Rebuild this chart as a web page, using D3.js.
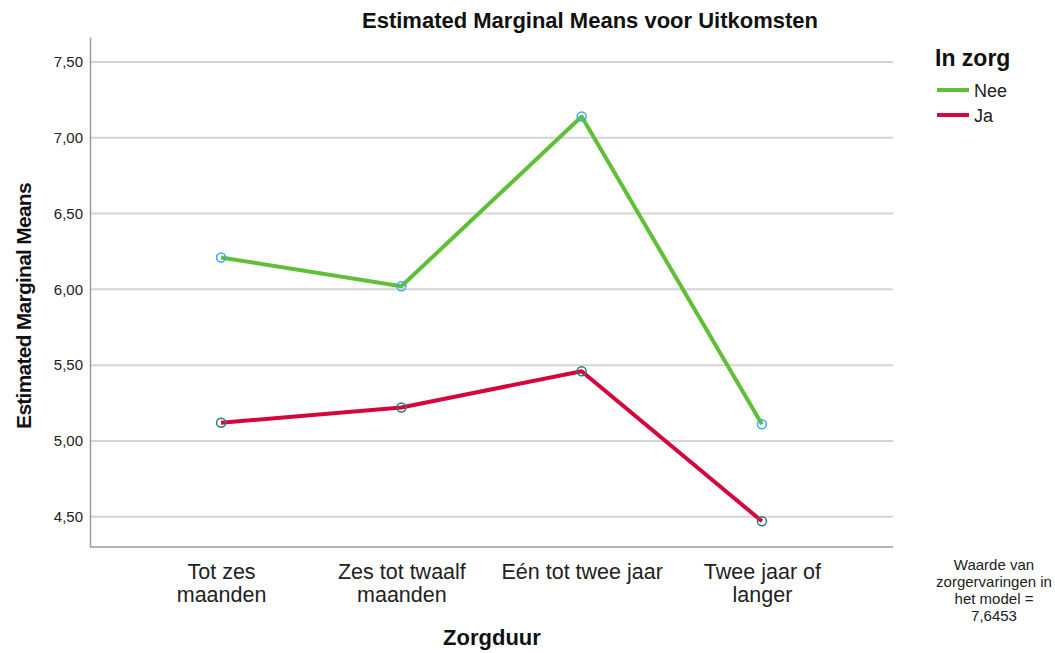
<!DOCTYPE html>
<html><head><meta charset="utf-8">
<script src="https://cdn.jsdelivr.net/npm/d3@7"></script>
<style>body{margin:0;background:#fff;} text{font-family:"Liberation Sans",Arial,sans-serif;}</style>
</head><body><svg id="c" width="1055" height="653"></svg>
<script>
const categories = [["Tot zes","maanden"],["Zes tot twaalf","maanden"],["Eén tot twee jaar"],["Twee jaar of","langer"]];
const catKeys = ["Tot zes maanden","Zes tot twaalf maanden","Eén tot twee jaar","Twee jaar of langer"];
const seriesNames = ["Nee","Ja"];
const neeValues = [6.21, 6.02, 7.14, 5.11];
const jaValues = [5.12, 5.22, 5.46, 4.47];
const yTicks = [4.5, 5.0, 5.5, 6.0, 6.5, 7.0, 7.5];
const noteLines = ["Waarde van","zorgervaringen in","het model =","7,6453"];

const svg = d3.select("#c");
const L = 90, R = 893, T = 37, B = 547;
const x = d3.scalePoint().domain(catKeys).range([L, R]).padding(0.727);
const y = d3.scaleLinear().domain([4.30, 7.665]).range([B, T]);
const fmt = v => d3.format(".2f")(v).replace(".", ",");

// gridlines
svg.append("g").selectAll("line").data(yTicks).join("line")
  .attr("x1", L).attr("x2", R).attr("y1", d => y(d)).attr("y2", d => y(d))
  .attr("stroke", "#d4d4d4").attr("stroke-width", 2);

// y axis
const ya = svg.append("g").attr("transform", `translate(${L},0)`)
  .call(d3.axisLeft(y).tickValues(yTicks).tickFormat(fmt).tickSize(0).tickPadding(7));
ya.select(".domain").attr("stroke", "#9a9a9a").attr("stroke-width", 1.5);
ya.selectAll("text").attr("font-size", 15).attr("fill", "#222").attr("font-family", "Liberation Sans, Arial, sans-serif");

// x axis
const xa = svg.append("g").attr("transform", `translate(0,${B})`)
  .call(d3.axisBottom(x).tickSize(0).tickFormat(""));
xa.select(".domain").attr("stroke", "#9a9a9a").attr("stroke-width", 1.5).attr("d", `M${L},0H${R}`);
xa.selectAll(".tick").each(function(d, i) {
  const t = d3.select(this).append("text").attr("fill", "#222").attr("font-size", 21.5)
    .attr("text-anchor", "middle").attr("font-family", "Liberation Sans, Arial, sans-serif");
  categories[i].forEach((ln, j) => t.append("tspan").attr("x", 0).attr("y", 32 + j * 23).text(ln));
});

// lines
const line = d3.line().x((d, i) => x(catKeys[i])).y(d => y(d));
const series = [
  {name: "Nee", values: neeValues, color: "#5fbf37", marker: "#3fa9f0"},
  {name: "Ja", values: jaValues, color: "#d4063c", marker: "#2e7a78"}
];
series.forEach(s => {
  svg.append("path").datum(s.values).attr("d", line).attr("fill", "none")
    .attr("stroke", s.color).attr("stroke-width", 4).attr("stroke-linejoin", "round");
});
series.forEach(s => {
  svg.append("g").selectAll("circle").data(s.values).join("circle")
    .attr("cx", (d, i) => x(catKeys[i])).attr("cy", d => y(d)).attr("r", 4.5)
    .attr("fill", "none").attr("stroke", s.marker).attr("stroke-width", 1.5);
});

// title
svg.append("text").attr("x", 590).attr("y", 28).attr("text-anchor", "middle")
  .attr("font-size", 22).attr("font-weight", "bold").attr("fill", "#111")
  .text("Estimated Marginal Means voor Uitkomsten");

// y title
svg.append("text").attr("transform", `translate(31,306) rotate(-90)`).attr("text-anchor", "middle")
  .attr("font-size", 21).attr("font-weight", "bold").attr("fill", "#111").attr("letter-spacing", -0.75)
  .text("Estimated Marginal Means");

// x title
svg.append("text").attr("x", 492).attr("y", 645).attr("text-anchor", "middle")
  .attr("font-size", 22).attr("font-weight", "bold").attr("fill", "#111").text("Zorgduur");

// legend
svg.append("text").attr("x", 935).attr("y", 66).attr("font-size", 23).attr("font-weight", "bold")
  .attr("fill", "#111").text("In zorg");
const lg = svg.append("g").selectAll("g").data(series).join("g")
  .attr("transform", (d, i) => `translate(937,${90 + i * 25})`);
lg.append("line").attr("x1", 0).attr("x2", 32).attr("stroke", d => d.color).attr("stroke-width", 4);
lg.append("text").attr("x", 37).attr("y", 7).attr("font-size", 18).attr("fill", "#222").text(d => d.name);

// note
const nt = svg.append("text").attr("text-anchor", "middle").attr("font-size", 15).attr("fill", "#222");
noteLines.forEach((ln, j) => nt.append("tspan").attr("x", 994).attr("y", 570 + j * 17).text(ln));
</script></body></html>
